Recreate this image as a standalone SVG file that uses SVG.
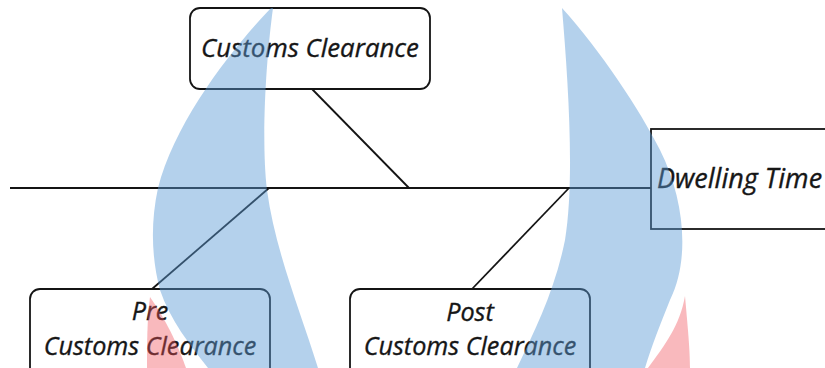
<svg xmlns="http://www.w3.org/2000/svg" width="825" height="368" viewBox="0 0 825 368">
<style>
.box{fill:#fff;stroke:#141414;stroke-width:1.8}
.ln{stroke:#141414;stroke-width:1.8;fill:none}
.t{font-family:"Open Sans","Noto Sans","Liberation Sans",sans-serif;font-style:italic;font-size:25.8px;fill:#161616;stroke:#161616;stroke-width:0.35}
.c{text-anchor:middle}
.s{font-size:25.2px}
.wb{fill:#5b9bd5;opacity:0.46}
.wp{fill:#f0505a;opacity:0.4}
</style>
<rect width="825" height="368" fill="#fff"/>
<g id="connectors">
<line class="ln" x1="10" y1="188" x2="651" y2="188"/>
<line class="ln" x1="312" y1="89" x2="409" y2="188"/>
<line class="ln" x1="152" y1="289" x2="269" y2="188"/>
<line class="ln" x1="472" y1="289" x2="569" y2="188"/>
</g>
<g id="customs">
<rect class="box" x="190" y="8" width="240" height="81" rx="10"/>
<text class="t c" x="310" y="57">Customs Clearance</text>
</g>
<g id="pre">
<rect class="box" x="30" y="289" width="240" height="90" rx="10"/>
<text class="t c s" x="150" y="320">Pre</text>
<text class="t c s" x="150" y="355">Customs Clearance</text>
</g>
<g id="post">
<rect class="box" x="350" y="289" width="240" height="90" rx="10"/>
<text class="t c s" x="470" y="320.5">Post</text>
<text class="t c s" x="470" y="355">Customs Clearance</text>
</g>
<g id="dwelling">
<rect class="box" x="651" y="129" width="190" height="100"/>
<text class="t" x="657" y="188" style="font-size:27px">Dwelling Time</text>
</g>
<g id="watermark">
<path class="wb" d="M271,8 C235,45 175,120 158,188 C150,225 152,260 160,290 C170,320 190,345 208,368 L318,368 C300,310 275,250 267,190 C261,140 266,60 273,8 Z"/>
<path class="wb" d="M562,8 C600,50 640,110 660,150 C685,200 690,260 670,300 C660,325 652,345 645,368 L517,368 C535,330 555,290 565,240 C575,180 568,80 562,8 Z"/>
<path class="wp" d="M150,297 C147,320 147,345 147,368 L186,368 C178,345 165,318 150,297 Z"/>
<path class="wp" d="M685,296 C688,330 690,350 690,368 L648,368 C665,345 680,325 685,296 Z"/>
</g>
</svg>
